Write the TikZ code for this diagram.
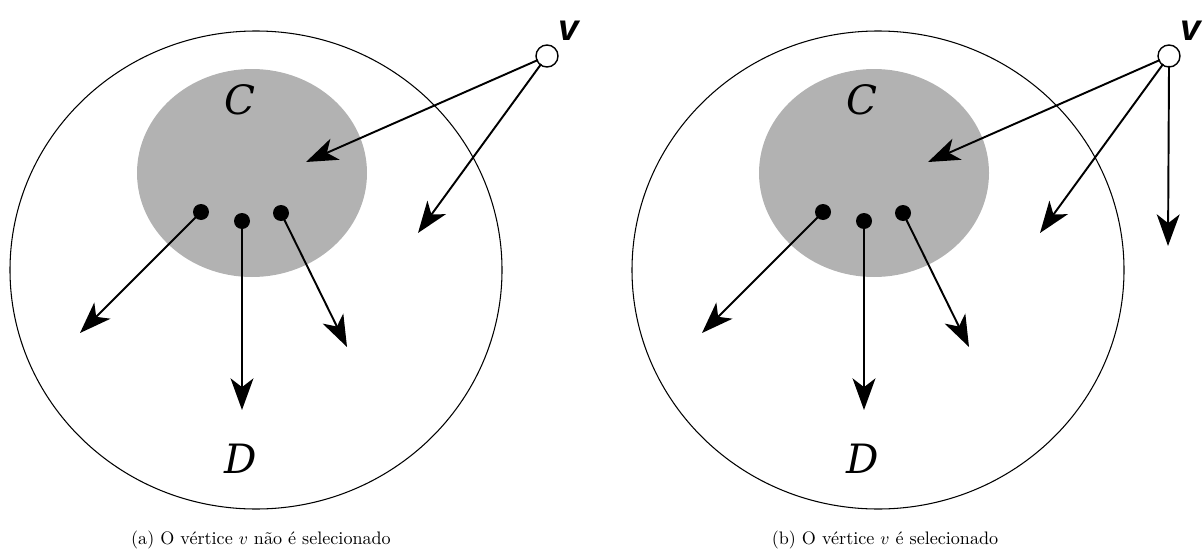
\documentclass[tikz,border=0pt]{standalone}
\usepackage{fontspec}
\newfontfamily\vfont{Liberation Sans}
\newfontfamily\setfont{DejaVu Serif}
\usetikzlibrary{arrows.meta}
\tikzset{
  bigc/.style={line width=0.6pt},
  gray region/.style={fill=black!30, draw=none},
  dot/.style={circle, fill=black, inner sep=0pt, minimum size=0.32cm},
  vert/.style={circle, draw=black, fill=white, line width=0.8pt, inner sep=0pt, minimum size=0.44cm},
  arr/.style={line width=1.1pt, -{Stealth[length=18pt, width=13pt, inset=5pt]}, shorten <=-1pt},
  setlabel/.style={font=\setfont\itshape\fontsize{23}{27}\selectfont},
  vlabel/.style={font=\vfont\bfseries\itshape\fontsize{21}{24}\selectfont, inner sep=0pt},
  captext/.style={font=\fontsize{10.3}{12}\selectfont, inner sep=0pt}
}
\begin{document}
\begin{tikzpicture}[x=0.02cm, y=-0.02cm]
\useasboundingbox (0,0) rectangle (1203,551);
\foreach \p/\dx in {a/0, b/622} {
  \begin{scope}[shift={(\dx,0)}]
    \draw[bigc] (256,270) ellipse [x radius=246, y radius=239];
    \fill[gray region] (252,173) ellipse [x radius=115, y radius=104];
    \node[setlabel] (\p C) at (240,100) {C};
    \node[setlabel] (\p D) at (241,459) {D};
    \node[dot] (\p d1) at (201,212) {};
    \node[dot] (\p d2) at (242,221) {};
    \node[dot] (\p d3) at (281,213) {};
    \coordinate (\p t1) at (80,333);
    \coordinate (\p t2) at (242,410);
    \coordinate (\p t3) at (347,347);
    \draw[arr] (\p d1) -- (\p t1);
    \draw[arr] (\p d2) -- (\p t2);
    \draw[arr] (\p d3) -- (\p t3);
    \node[vert] (\p v) at (547,56) {};
    \node[vlabel] (\p vl) at (569,31) {v};
    \coordinate (\p u1) at (306,162);
    \coordinate (\p u2) at (418,233);
    \draw[arr] (\p v) -- (\p u1);
    \draw[arr] (\p v) -- (\p u2);
  \end{scope}
}
\coordinate (bu3) at (1168,246);
\draw[arr] (bv.south) -- (bu3);
\node[captext] (capa) at (261,540) {(a) O vértice $v$ não é selecionado};
\node[captext] (capb) at (885,540) {(b) O vértice $v$ é selecionado};
\end{tikzpicture}
\end{document}
